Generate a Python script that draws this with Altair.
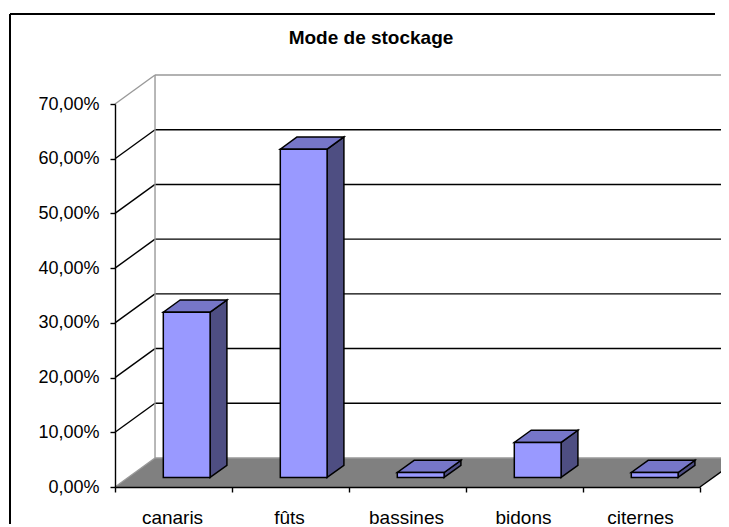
import json
import altair as alt
import pandas as pd

# ---- data ----
categories = ["canaris", "fûts", "bassines", "bidons", "citernes"]
values = [30.2, 60.0, 0.9, 6.4, 0.9]          # percent
y_ticks = [0, 10, 20, 30, 40, 50, 60, 70]
title_text = "Mode de stockage"

# ---- 3D projection settings (in data units) ----
DX = 0.342      # depth shift along x, in category units
DY = 5.30       # depth shift along y, in percent units
F0, F1 = 0.33, 0.75   # bar depth span (fraction of full depth)
BAR_W = 0.40          # bar width in category units
N = len(categories)
YMAX = 70

FRONT_C = "#9999ff"
TOP_C = "#7676c8"
SIDE_C = "#4e4e82"
FLOOR_C = "#808080"
WALL_EDGE = "#999999"
FONT = "Liberation Sans"

# ---- geometry tables built from the data ----
front_rows, side_rows, top_rows = [], [], []
for i, (cat, v) in enumerate(zip(categories, values)):
    c = i + 0.5
    l, r = c - BAR_W / 2, c + BAR_W / 2
    front_rows.append(dict(id=cat, x=l + F0 * DX, x2=r + F0 * DX, y=F0 * DY, y2=v + F0 * DY))
    for f in (F0, F1):
        side_rows.append(dict(id=cat, x=r + f * DX, y=f * DY, y2=v + f * DY))
        top_rows.append(dict(id=cat, y=v + f * DY, x=l + f * DX, x2=r + f * DX))

floor_rows = [dict(id="floor", y=0.0, x=0.0, x2=float(N)),
              dict(id="floor", y=DY, x=DX, x2=N + DX)]

grid_rows = [dict(x=DX, x2=N + DX, y=t + DY,
                  c="#000000" if 0 < t < YMAX else WALL_EDGE) for t in y_ticks]
diag_rows = [dict(x=0.0, x2=DX, y=float(t), y2=t + DY,
                  c="#000000" if 0 < t < YMAX else WALL_EDGE) for t in y_ticks]
diag_rows.append(dict(x=float(N), x2=N + DX, y=0.0, y2=DY, c="#000000"))
edge_rows = [dict(x=DX, y=DY, y2=YMAX + DY)]

names_js = json.dumps(categories, ensure_ascii=False)

xs = alt.Scale(domain=[0, N], nice=False, zero=False)
ys = alt.Scale(domain=[0, YMAX], nice=False, zero=False)

x_axis = alt.Axis(values=list(range(N + 1)),
                  labelExpr=f"{names_js}[datum.value] || ''",
                  labelOffset=57, tickSize=5, labelPadding=16,
                  labelFlush=False, labelOverlap=False, grid=False,
                  labelFont=FONT, labelFontSize=19, labelColor="black",
                  domainColor="black", tickColor="black",
                  domainWidth=1.4, tickWidth=1.4, zindex=1)
y_axis = alt.Axis(values=y_ticks,
                  labelExpr="replace(format(datum.value, '.2f'), '.', ',') + '%'",
                  tickSize=5, labelPadding=11, labelOverlap=False, grid=False,
                  labelFont=FONT, labelFontSize=18, labelColor="black",
                  domainColor="black", tickColor="black",
                  domainWidth=1.4, tickWidth=1.4, zindex=1)

X = alt.X("x:Q", scale=xs, axis=x_axis, title=None)
Y = alt.Y("y:Q", scale=ys, axis=y_axis, title=None)
X2 = alt.X2("x2:Q")
Y2 = alt.Y2("y2:Q")

floor = alt.Chart(pd.DataFrame(floor_rows)).mark_area(
    orient="horizontal", fill=FLOOR_C, strokeWidth=0
).encode(x=X, x2=X2, y=Y, detail="id:N")

diag = alt.Chart(pd.DataFrame(diag_rows)).mark_rule(strokeWidth=1.4).encode(
    x=X, x2=X2, y=Y, y2=Y2, color=alt.Color("c:N", scale=None))

grid = alt.Chart(pd.DataFrame(grid_rows)).mark_rule(strokeWidth=1.4).encode(
    x=X, x2=X2, y=Y, color=alt.Color("c:N", scale=None))

edge = alt.Chart(pd.DataFrame(edge_rows)).mark_rule(strokeWidth=1.4, color=WALL_EDGE).encode(
    x=X, y=Y, y2=Y2)

side = alt.Chart(pd.DataFrame(side_rows)).mark_area(
    fill=SIDE_C, stroke="black", strokeWidth=1.5, interpolate="linear"
).encode(x=X, y=Y, y2=Y2, detail="id:N")

top = alt.Chart(pd.DataFrame(top_rows)).mark_area(
    orient="horizontal", fill=TOP_C, stroke="black", strokeWidth=1.5, interpolate="linear"
).encode(x=X, x2=X2, y=Y, detail="id:N")

front = alt.Chart(pd.DataFrame(front_rows)).mark_rect(
    fill=FRONT_C, stroke="black", strokeWidth=1.5
).encode(x=X, x2=X2, y=Y, y2=Y2)

title = alt.Chart(pd.DataFrame({"t": [title_text]})).mark_text(
    font=FONT, fontSize=19, fontWeight="bold", color="black",
    align="center", baseline="alphabetic"
).encode(text="t:N", x=alt.value(256), y=alt.value(-60))

frame_v = alt.Chart(pd.DataFrame({"k": [0]})).mark_rule(color="black", strokeWidth=2).encode(
    x=alt.value(-105), y=alt.value(-90), y2=alt.value(420))
frame_h = alt.Chart(pd.DataFrame({"k": [0]})).mark_rule(color="black", strokeWidth=2).encode(
    x=alt.value(-105), x2=alt.value(600), y=alt.value(-90))

chart = alt.layer(
    floor, diag, grid, edge, side, top, front, frame_v, frame_h, title
).properties(
    width=585, height=383,
    autosize=alt.AutoSizeParams(type="none"),
    padding={"left": 107, "top": 96, "right": 21, "bottom": 40},
    background="white",
).configure_view(stroke=None)

chart.save("out.html", embed_options={"renderer": "svg", "actions": False})
